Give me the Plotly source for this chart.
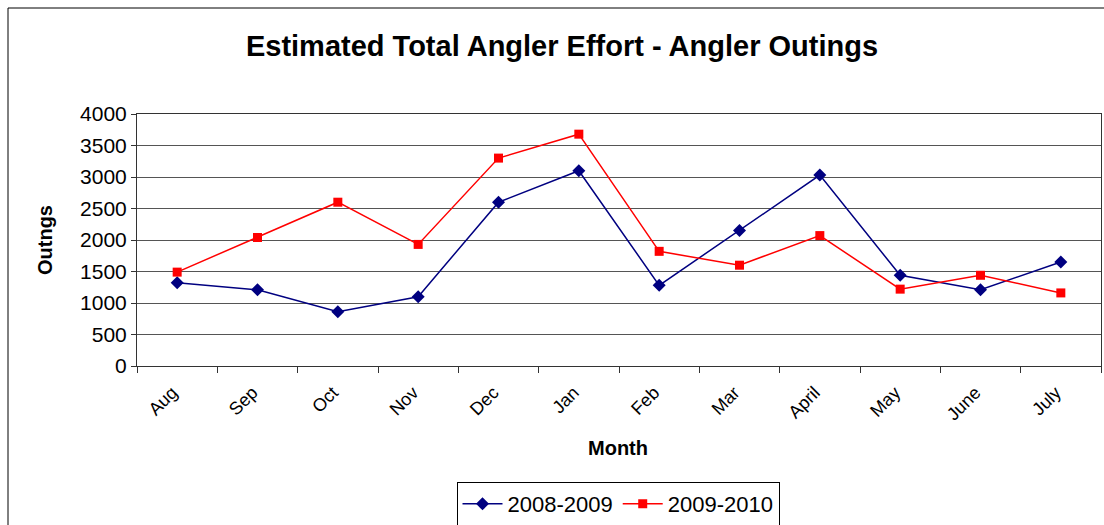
import plotly.graph_objects as go

months = ["Aug", "Sep", "Oct", "Nov", "Dec", "Jan", "Feb", "Mar", "April", "May", "June", "July"]
s2008 = [1320, 1210, 860, 1100, 2600, 3100, 1280, 2150, 3030, 1440, 1210, 1650]
s2009 = [1490, 2040, 2600, 1930, 3300, 3680, 1820, 1600, 2070, 1220, 1440, 1160]
yticks = [0, 500, 1000, 1500, 2000, 2500, 3000, 3500, 4000]

FONT = "Liberation Sans, Arial, sans-serif"

fig = go.Figure()
fig.add_trace(go.Scatter(
    x=months, y=s2008, name="2008-2009", mode="lines+markers",
    line=dict(color="#000080", width=1.5),
    marker=dict(symbol="diamond", size=10, color="#000080"),
))
fig.add_trace(go.Scatter(
    x=months, y=s2009, name="2009-2010", mode="lines+markers",
    line=dict(color="#FF0000", width=1.5),
    marker=dict(symbol="square", size=9, color="#FF0000"),
))

W, H = 1104, 525
L, R, T, B = 137, 1101, 114, 366
pw, ph = R - L, B - T

def px(x):
    return (x - L) / pw

def py(y):
    return (B - y) / ph

fig.update_layout(
    width=W, height=H,
    margin=dict(l=L, r=W - R, t=T, b=H - B, autoexpand=False),
    paper_bgcolor="white", plot_bgcolor="white",
    font=dict(family=FONT, color="black"),
    title=dict(text="<b>Estimated Total Angler Effort - Angler Outings</b>",
               font=dict(size=29, family=FONT, color="black"),
               x=562 / W, xanchor="center", xref="container",
               y=1 - 46 / H, yanchor="middle", yref="container"),
    showlegend=True,
    legend=dict(orientation="h", x=px(618), xanchor="center", y=py(504), yanchor="middle",
                bordercolor="black", borderwidth=1, bgcolor="white",
                font=dict(size=22, family=FONT), itemwidth=40, tracegroupgap=0),
    xaxis=dict(type="category", categoryorder="array", categoryarray=months,
               tickangle=-45, tickfont=dict(size=18, family=FONT), automargin=False,
               ticklabelstandoff=8, ticklabelshift=-5,
               showline=True, linecolor="#333", linewidth=1, mirror=True,
               ticks="outside", tickson="boundaries", ticklen=6, tickcolor="#333",
               showgrid=False, range=[-0.5, 11.5]),
    yaxis=dict(range=[0, 4000], tickvals=yticks, ticktext=[str(v) for v in yticks],
               tickfont=dict(size=21, family=FONT), automargin=False,
               showline=True, linecolor="#333", linewidth=1, mirror=True,
               ticks="outside", ticklen=5, tickcolor="#333",
               showgrid=True, gridcolor="#555", gridwidth=1, zeroline=False),
    annotations=[
        dict(text="<b>Outngs</b>", x=px(45), y=py(240), xref="paper", yref="paper",
             textangle=-90, showarrow=False, font=dict(size=20, family=FONT),
             xanchor="center", yanchor="middle"),
        dict(text="<b>Month</b>", x=px(618), y=py(448), xref="paper", yref="paper",
             showarrow=False, font=dict(size=20, family=FONT),
             xanchor="center", yanchor="middle"),
    ],
    shapes=[dict(type="rect", xref="paper", yref="paper",
                 x0=px(8), y0=py(560), x1=px(1140), y1=py(8),
                 line=dict(color="black", width=1), fillcolor="rgba(0,0,0,0)", layer="below")],
)

fig.write_html("out.html", config={"displayModeBar": False},
               post_script="document.body.style.margin='0';document.body.style.overflow='hidden';")
